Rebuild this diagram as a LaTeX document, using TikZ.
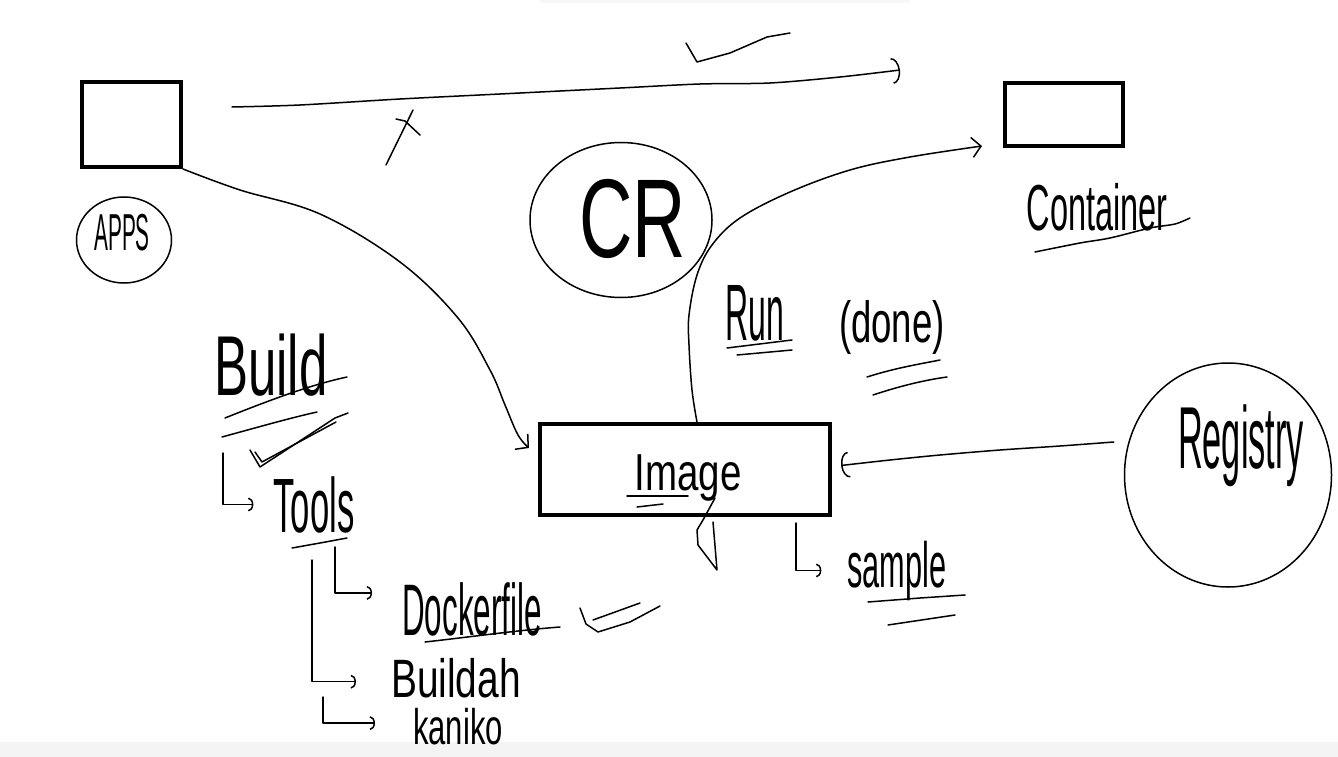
\documentclass[tikz,border=0pt]{standalone}
\usepackage{fontspec}
\usepackage{graphicx}
\setmainfont{Liberation Sans}
\usetikzlibrary{shapes.geometric,arrows.meta}
\newcommand{\hw}[2]{\scalebox{#1}[1]{#2}}
\newcommand{\fs}[1]{\fontsize{#1}{#1}\selectfont}
\begin{document}
\begin{tikzpicture}[x=1pt,y=-1pt,
  pen/.style={line width=1.5pt, line cap=round, line join=round},
  boxy/.style={draw, line width=4pt, rectangle, inner sep=0pt},
  ring/.style={draw, ellipse, line width=1.5pt, inner sep=0pt},
  hand/.style={inner sep=0pt, anchor=base},
  tipa/.style={-{Straight Barb[length=9pt,width=20pt]}},
  tipc/.style={-{Arc Barb[length=8pt,width=26pt]}},
  tipt/.style={-{Arc Barb[length=5pt,width=14pt]}},
]
\useasboundingbox (0,0) rectangle (1338,757);
\fill[gray!9] (0,742) rectangle (1338,757);
\fill[gray!6] (540,0) rectangle (910,3);

% boxes
\node[boxy, minimum width=99pt, minimum height=85pt] (apps) at (131.5,124.5) {};
\node[boxy, minimum width=118pt, minimum height=63pt] (container) at (1064,114.5) {};
\node[boxy, minimum width=290pt, minimum height=91pt] (image) at (685,469.5) {};

% circles
\node[ring, minimum width=95pt, minimum height=86pt] (appsring) at (124,240) {};
\node[ring, minimum width=182pt, minimum height=155pt] (cr) at (621,220) {};
\node[ring, minimum width=207pt, minimum height=224pt] (registry) at (1228,475) {};

% texts
\node[hand, font=\fs{52}] (appst) at (122,250) {\hw{0.4}{APPS}};
\node[hand, font=\fs{112}] (crt) at (633,257) {\hw{0.66}{CR}};
\node[hand, font=\fs{65}] (contt) at (1097,230) {\hw{0.5}{Container}};
\node[hand, font=\fs{80}] (runt) at (755,340) {\hw{0.4}{Run}};
\node[hand, font=\fs{58}] (donet) at (892,342) {\hw{0.63}{(done)}};
\node[hand, font=\fs{85}] (buildt) at (271,395) {\hw{0.6}{Build}};
\node[hand, font=\fs{77}] (toolst) at (314,532) {\hw{0.45}{Tools}};
\node[hand, font=\fs{73}] (dockt) at (472,635) {\hw{0.43}{Dockerfile}};
\node[hand, font=\fs{54}] (buildaht) at (456,697) {\hw{0.72}{Buildah}};
\node[hand, font=\fs{50}] (kanikot) at (458,744) {\hw{0.62}{kaniko}};
\node[hand, font=\fs{52}] (imaget) at (688,490) {\hw{0.74}{Image}};
\node[hand, font=\fs{64}] (samplet) at (897,587) {\hw{0.48}{sample}};
\node[hand, font=\fs{88}] (regt) at (1241,468) {\hw{0.39}{Registry}};

% free ends
\coordinate (ts) at (232,107);
\coordinate (te) at (900,70);
\coordinate (b1) at (223,453);
\coordinate (t1) at (335,547);
\coordinate (t2) at (312,560);
\coordinate (t3) at (323,697);

% connectors
\draw[pen, tipc] plot[smooth] coordinates {(ts) (300,105) (400,99) (500,94) (620,88) (700,84) (770,83) (840,77) (te)};
\draw[pen, tipa] plot[smooth, tension=0.6] coordinates {(apps.south east) (240,190) (320,214) (400,262) (458,318) (490,370) (505,405) (518,435) ([xshift=-9pt,yshift=-26pt]image.north west)};
\draw[pen, tipa] plot[smooth, tension=0.6] coordinates {([xshift=12pt]image.north) (692,390) (689,345) (689,315) (697,275) (712,245) (740,218) (790,192) (850,170) (910,157) ([xshift=-21pt,yshift=2pt]container.south west)};
\draw[pen, tipc] plot[smooth] coordinates {([xshift=-10pt,yshift=33pt]registry.west) (1060,446) (1000,450) (940,455) (890,460) ([xshift=9pt,yshift=4pt]image.east)};

\draw[pen, tipt] (b1) |- ([xshift=-20pt]toolst.west);
\draw[pen, tipt] (t1) |- ([xshift=-30pt,yshift=16pt]dockt.west);
\draw[pen, tipt] (t2) |- ([xshift=-35pt,yshift=-4pt]buildaht.west);
\draw[pen, tipt] (t3) |- ([xshift=-38pt,yshift=3pt]kanikot.west);
\draw[pen, tipt] ([xshift=-36pt,yshift=-6pt]image.south east) |- ([xshift=-26pt]samplet.west);

% marks: checks, cross, underlines
\draw[pen] (686,43) -- (697,62) -- (730,53) -- (767,37) -- (790,33);
\draw[pen] (386,165) -- (413,110);
\draw[pen] (396,119) -- (405,121) -- (420,135);

\draw[pen] (225,418) .. controls (270,400) and (310,385) .. (347,377);
\draw[pen] (222,437) .. controls (255,428) and (290,418) .. (317,412);
\draw[pen] (250,450) -- (260,467) -- (335,418) -- (348,413);
\draw[pen] (255,452) -- (262,462) -- (336,422);
\draw[pen] (292,548) -- (320,543) -- (347,538);

\draw[pen] (425,642) .. controls (470,637) and (520,630) .. (560,627);
\draw[pen] (580,608) -- (586,624) -- (598,632) -- (630,622) -- (660,606);
\draw[pen] (593,620) -- (640,603);

\draw[pen] (627,496) -- (688,496);
\draw[pen] (637,507) -- (663,504);
\draw[pen] (715,498) -- (703,520) -- (697,530) -- (698,545) -- (717,570) -- (713,522);

\draw[pen] (868,602) -- (920,598) -- (965,595);
\draw[pen] (888,625) -- (955,615);

\draw[pen] (727,348) -- (792,340);
\draw[pen] (737,355) -- (792,350);
\draw[pen] (867,377) .. controls (895,368) and (920,364) .. (940,360);
\draw[pen] (873,395) .. controls (900,386) and (925,380) .. (947,377);

\draw[pen] plot[smooth] coordinates {(1035,252) (1080,243) (1110,238) (1150,228) (1175,224) (1190,218)};
\end{tikzpicture}
\end{document}
